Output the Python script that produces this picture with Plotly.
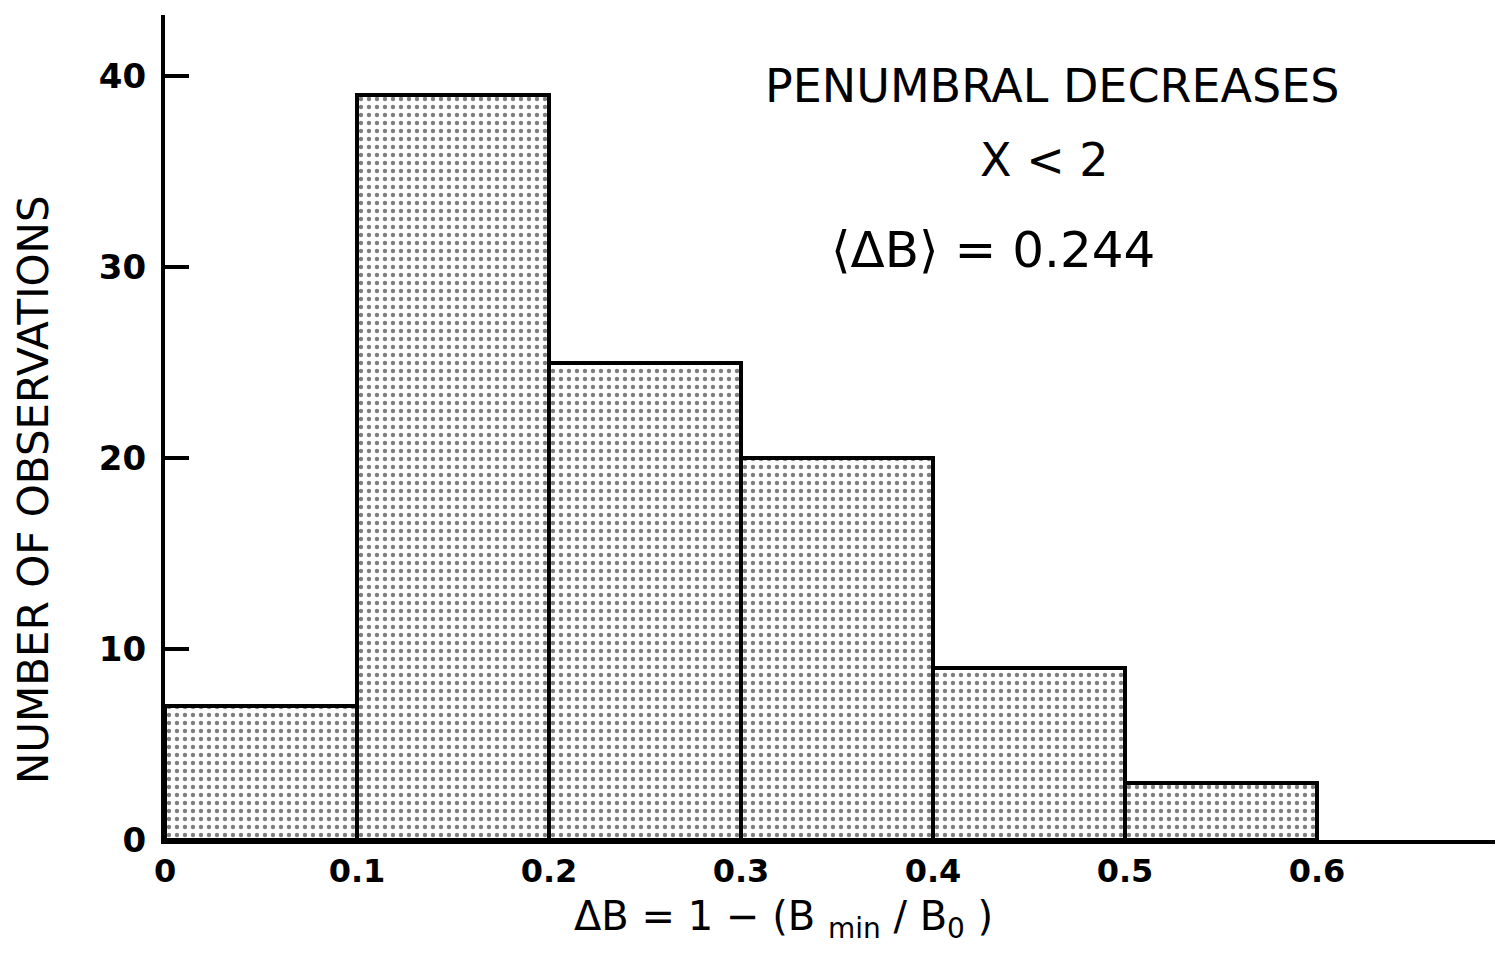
import plotly.graph_objects as go

bin_starts = [0.0, 0.1, 0.2, 0.3, 0.4, 0.5]
bin_width = 0.1
counts = [7, 39, 25, 20, 9, 3]
x_ticks = [0, 0.1, 0.2, 0.3, 0.4, 0.5, 0.6]
x_tick_labels = ["0", "0.1", "0.2", "0.3", "0.4", "0.5", "0.6"]
y_ticks = [0, 10, 20, 30, 40]
y_tick_labels = ["0", "10", "20", "30", "40"]

FONT = "DejaVu Sans"

fig = go.Figure()
fig.add_trace(go.Bar(
    x=bin_starts, y=counts, width=bin_width, offset=0,
    marker=dict(
        color="white",
        line=dict(color="black", width=4),
        pattern=dict(shape=".", fgcolor="black", bgcolor="white", size=8, solidity=0.24),
    ),
    showlegend=False,
))

fig.update_layout(
    width=1487, height=942,
    margin=dict(l=157, r=0, t=7, b=110),
    paper_bgcolor="white", plot_bgcolor="white",
    font=dict(family=FONT, color="black"),
    bargap=0,
    xaxis=dict(
        range=[0, 0.6927], showgrid=False, zeroline=False,
        showline=True, linecolor="black", linewidth=4,
        tickmode="array", tickvals=x_ticks, ticktext=x_tick_labels,
        ticks="", ticklabelstandoff=0,
        tickfont=dict(family=FONT, size=32, weight="bold"),
    ),
    yaxis=dict(
        range=[0, 43.2], showgrid=False, zeroline=False,
        showline=True, linecolor="black", linewidth=4,
        tickmode="array", tickvals=y_ticks, ticktext=y_tick_labels,
        ticks="inside", ticklen=24, tickwidth=4, tickcolor="black",
        ticklabelstandoff=8,
        tickfont=dict(family=FONT, size=34, weight="bold"),
    ),
)

# axis titles (placed as paper annotations to match the reference positions)
fig.add_annotation(x=-0.0992, y=0.4242, xref="paper", yref="paper", text="NUMBER OF OBSERVATIONS",
                   xanchor="center", yanchor="middle",
                   textangle=-90, showarrow=False, font=dict(family=FONT, size=42))
fig.add_annotation(x=0.4647, y=-0.0955, xref="paper", yref="paper",
                   xanchor="center", yanchor="middle",
                   text="ΔB = 1 − (B <sub>min</sub> / B<sub>0</sub> )",
                   showarrow=False, font=dict(family=FONT, size=40))

fig.add_annotation(x=0.462, y=39.5, xref="x", yref="y", text="PENUMBRAL DECREASES",
                   showarrow=False, font=dict(family=FONT, size=46))
fig.add_annotation(x=0.458, y=35.6, xref="x", yref="y", text="X &lt; 2",
                   showarrow=False, font=dict(family=FONT, size=46))
fig.add_annotation(x=0.431, y=30.9, xref="x", yref="y", text="⟨ΔB⟩ = 0.244",
                   showarrow=False, font=dict(family=FONT, size=50))

fig.write_html("out.html")
